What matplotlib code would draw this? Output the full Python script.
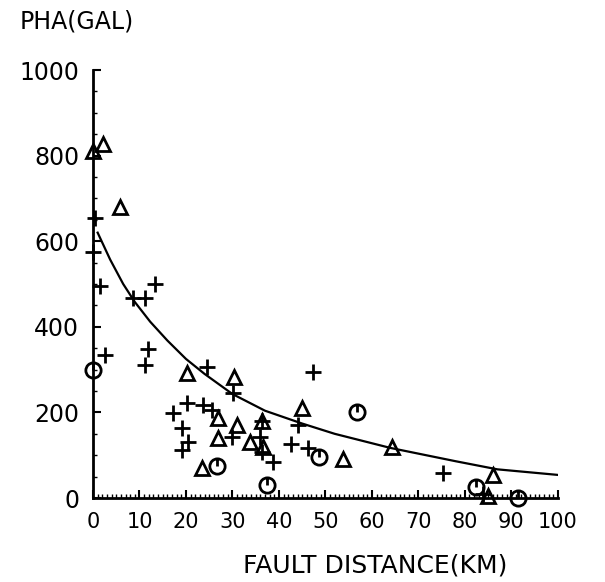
"""Peak horizontal acceleration vs fault distance, scanned-plot style."""

import matplotlib
matplotlib.use("Agg")
import matplotlib.pyplot as plt
from matplotlib.path import Path
from matplotlib.ticker import MultipleLocator

plus_x = [0.4, 0, 1.5, 2.6, 8.6, 11.2, 13.4, 11.9, 11.2, 24.6, 30.2, 20.2, 17.3,
          23.7, 25.6, 19.2, 30, 20.5, 19.2, 36.4, 36, 36.4, 38.8, 47.4, 44,
          42.5, 46.3, 75.2, 84]
plus_y = [655, 575, 496, 335, 468, 468, 500, 349, 311, 307, 245, 221, 199,
          218, 206, 164, 143, 131, 112, 180, 143, 108, 84, 295, 171,
          126, 117, 58, 10]

tri_x = [0, 2.2, 5.8, 20.3, 30.4, 27, 31, 27, 33.8, 36.4, 36.6, 23.5, 45,
         53.7, 64.4, 86, 85]
tri_y = [810, 826, 680, 292, 283, 187, 171, 140, 131, 180, 120, 70, 210,
         91, 119, 54, 5]

circ_x = [0, 26.7, 37.5, 56.9, 48.7, 82.3, 91.4]
circ_y = [300, 75, 30, 201, 96, 26, 0]

# Attenuation curve, points.
curve_x = [1, 3.7, 6.5, 9, 12.3, 16, 20, 24, 30, 37, 45, 52, 64, 78, 87, 100]
curve_y = [620, 557, 500, 458, 412, 368, 325, 290, 243, 204, 174, 150, 117,
           86, 67, 54]

x_ticks = list(range(0, 101, 10))
y_ticks = list(range(0, 1001, 200))

# Circle with a stroke from the top to the centre.
_circ_marker = Path.make_compound_path(
    Path.unit_circle(),
    Path([(0, 1), (0, 0)], [Path.MOVETO, Path.LINETO]),
)

fig = plt.figure(figsize=(6.05, 5.82), dpi=100)
ax = fig.add_axes([0.1537, 0.1443, 0.7683, 0.7354])

ax.plot(curve_x, curve_y, color="black", lw=1.6, zorder=3)

ax.plot(plus_x, plus_y, ls="none", marker="+", ms=12, mew=2.0,
        color="black", clip_on=False, zorder=4)
ax.plot(tri_x, tri_y, ls="none", marker="^", ms=10, mew=2.0,
        mfc="none", mec="black", clip_on=False, zorder=4)
ax.plot(circ_x, circ_y, ls="none", marker=_circ_marker, ms=11, mew=2.0,
        mfc="none", mec="black", clip_on=False, zorder=4)

ax.set_xlim(0, 100)
ax.set_ylim(0, 1000)
ax.set_xticks(x_ticks)
ax.set_yticks(y_ticks)
ax.xaxis.set_minor_locator(MultipleLocator(1))
ax.yaxis.set_minor_locator(MultipleLocator(50))

for side in ("top", "right"):
    ax.spines[side].set_visible(False)
for side in ("left", "bottom"):
    ax.spines[side].set_linewidth(2.0)

ax.tick_params(axis="both", which="major", direction="in", length=6,
               width=1.5, color="black")
ax.tick_params(axis="both", which="minor", direction="in", length=3,
               width=1.0, color="black")
ax.tick_params(axis="x", which="major", labelsize=15, pad=10)
ax.tick_params(axis="y", which="major", labelsize=17, pad=10)

fig.text(20 / 605, 1 - 22 / 582, "PHA(GAL)", fontsize=17,
         ha="left", va="center")
fig.text(375 / 605, 1 - 565 / 582, "FAULT DISTANCE(KM)", fontsize=18,
         ha="center", va="center")

fig.savefig("out.png", dpi=100)
plt.close(fig)
